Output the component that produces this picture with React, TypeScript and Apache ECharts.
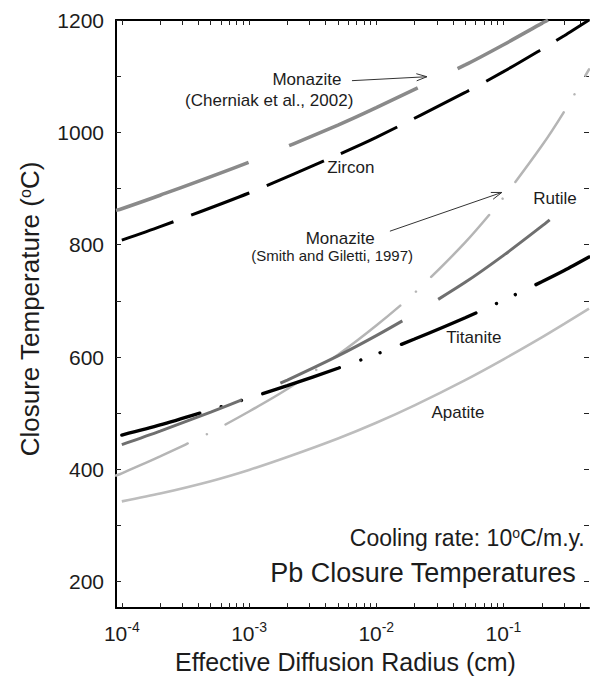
import React, { useEffect, useRef } from "react";
import * as echarts from "echarts";

const FONT = '"Liberation Sans", Arial, Helvetica, sans-serif';
const INK = "#1c1c1c";

// Axis extents: effective diffusion radius (cm, log scale) and closure temperature (°C)
const radiusMin = 9e-5;
const radiusMax = 0.47;
const tempMin = 153;
const tempMax = 1200;

// Tick positions
const radiusDecades = [1e-4, 1e-3, 1e-2, 1e-1];
const radiusLabelExponents = [-4, -3, -2, -1];
const tempTicks = [200, 300, 400, 500, 600, 700, 800, 900, 1000, 1100, 1200];
const tempLabels = [200, 400, 600, 800, 1000, 1200];

// Closure temperature curves (radius in cm, temperature in °C)
const monaziteCherniakRadius = [9e-5, 1e-4, 2e-4, 1e-3, 5e-3, 1e-2, 5e-2, 0.1, 0.2, 0.224];
const monaziteCherniakTemp = [861, 864, 888, 947, 1013, 1044, 1120, 1156, 1194, 1200];

const zirconRadius = [1e-4, 2e-4, 1e-3, 5e-3, 1e-2, 5e-2, 0.1, 0.2, 0.3, 0.47];
const zirconTemp = [808, 832, 892, 960, 991, 1071, 1108, 1148, 1172, 1200];

const monaziteSmithRadius = [9e-5, 1e-4, 2e-4, 5e-4, 1e-3, 2e-3, 5e-3, 1e-2, 2e-2, 5e-2, 0.1, 0.2, 0.3, 0.47];
const monaziteSmithTemp = [389, 393, 423, 466, 503, 543, 604, 656, 714, 804, 884, 976, 1037, 1112];

const rutileRadius = [1e-4, 2e-4, 5e-4, 1e-3, 2e-3, 5e-3, 1e-2, 2e-2, 5e-2, 0.1, 0.2, 0.254];
const rutileTemp = [444, 468, 502, 529, 559, 602, 638, 677, 733, 781, 833, 852];

const titaniteRadius = [1e-4, 2e-4, 5e-4, 1e-3, 2e-3, 5e-3, 1e-2, 2e-2, 5e-2, 0.1, 0.2, 0.3, 0.47];
const titaniteTemp = [461, 479, 506, 527, 549, 580, 605, 632, 670, 701, 734, 754, 778];

const apatiteRadius = [1e-4, 2e-4, 5e-4, 1e-3, 2e-3, 5e-3, 1e-2, 2e-2, 5e-2, 0.1, 0.2, 0.3, 0.47];
const apatiteTemp = [343, 357, 379, 399, 422, 455, 483, 514, 559, 596, 635, 659, 686];

// Curve labels, anchored in data space
const labelText = [
  "Monazite",
  "(Cherniak et al., 2002)",
  "Zircon",
  "Monazite",
  "(Smith and Giletti, 1997)",
  "Rutile",
  "Titanite",
  "Apatite",
  "Cooling rate: 10{o|o}C/m.y.",
  "Pb Closure Temperatures",
];
const labelRadius = [2.85e-3, 1.44e-3, 6.3e-3, 5.2e-3, 4.5e-3, 0.254, 0.0585, 0.0438, 0.435, 0.37];
const labelTemp = [1094, 1057, 938, 811, 781, 882, 635, 502, 278, 216];
const labelSize = [17, 17, 17, 17, 15, 17, 17, 17, 23, 27];
const labelAlign = ["center", "center", "center", "center", "center", "center", "center", "center", "right", "right"];

// Pointer arrows from the monazite labels to their curves
const arrowFrom = [
  [6.44e-3, 1092],
  [0.0128, 824],
];
const arrowTo = [
  [0.025, 1099],
  [0.097, 893],
];

const lg = (v: number) => Math.log10(v);
const toPoints = (radius: number[], temp: number[]) => radius.map((r, i) => [lg(r), temp[i]]);

const minorTicks: number[] = [];
radiusDecades.forEach((d) => {
  for (let m = 1; m <= 9; m++) {
    const v = d * m;
    if (v <= radiusMax) minorTicks.push(lg(v));
  }
});

function curve(name: string, radius: number[], temp: number[], lineStyle: any, z: number) {
  return {
    name,
    type: "line",
    data: toPoints(radius, temp),
    showSymbol: false,
    symbol: "none",
    smooth: 0.25,
    clip: true,
    silent: true,
    z,
    lineStyle,
  };
}

export default function App() {
  const ref = useRef<HTMLDivElement>(null);

  useEffect(() => {
    if (!ref.current) return;
    const chart = echarts.init(ref.current, undefined, { renderer: "svg" });

    const axisLine = { show: true, lineStyle: { color: "#000", width: 2 } };
    const tick = { show: true, inside: true, length: 5, lineStyle: { color: "#222", width: 1 } };

    const xBase = {
      type: "value",
      min: lg(radiusMin),
      max: lg(radiusMax),
      splitLine: { show: false },
      axisLine,
    };
    const yBase = {
      type: "value",
      min: tempMin,
      max: tempMax,
      splitLine: { show: false },
    };

    chart.setOption({
      animation: false,
      backgroundColor: "#fff",
      grid: { left: 116, right: 1, top: 20, bottom: 66, containLabel: false },
      xAxis: [
        {
          ...xBase,
          position: "bottom",
          axisTick: { ...tick, customValues: minorTicks },
          axisLabel: {
            customValues: radiusLabelExponents,
            margin: 12,
            formatter: (v: number) => `{b|10}{s|${Math.round(v)}}`,
            rich: {
              b: { fontFamily: FONT, fontSize: 21, color: INK, verticalAlign: "bottom", lineHeight: 24 },
              s: { fontFamily: FONT, fontSize: 14, color: INK, verticalAlign: "top", lineHeight: 14 },
            },
          },
          name: "Effective Diffusion Radius (cm)",
          nameLocation: "middle",
          nameGap: 38,
          nameTextStyle: { fontFamily: FONT, fontSize: 25, color: INK, padding: [0, 14, 0, 0] },
        },
        {
          ...xBase,
          position: "top",
          axisTick: { ...tick, customValues: minorTicks },
          axisLabel: { show: false },
        },
      ],
      yAxis: [
        {
          ...yBase,
          position: "left",
          axisLine,
          axisTick: { ...tick, customValues: tempTicks },
          axisLabel: {
            customValues: tempLabels,
            margin: 12,
            fontFamily: FONT,
            fontSize: 21,
            color: INK,
            formatter: (v: number) => String(Math.round(v)),
          },
          name: "Closure Temperature ({o|o}C)",
          nameLocation: "middle",
          nameGap: 73,
          nameTextStyle: {
            fontFamily: FONT,
            fontSize: 26,
            color: INK,
            padding: [0, 0, 0, 10],
            rich: { o: { fontFamily: FONT, fontSize: 16, color: INK, verticalAlign: "top", lineHeight: 16 } },
          },
        },
        {
          ...yBase,
          position: "right",
          axisLine: { show: false },
          axisTick: { ...tick, customValues: tempTicks },
          axisLabel: { show: false },
        },
      ],
      series: [
        curve("Apatite", apatiteRadius, apatiteTemp, { color: "#bdbdbd", width: 2.6 }, 2),
        curve("Monazite (Smith and Giletti, 1997)", monaziteSmithRadius, monaziteSmithTemp, {
          color: "#b5b5b5",
          width: 2.5,
          cap: "round",
          type: [84.5, 21.25, 0.01, 21.25],
          dashOffset: 5.75,
        }, 3),
        curve("Titanite", titaniteRadius, titaniteTemp, {
          color: "#000",
          width: 3.4,
          cap: "round",
          type: [81, 22.5, 0.01, 21, 0.01, 22.5],
          dashOffset: 0,
        }, 4),
        curve("Rutile", rutileRadius, rutileTemp, {
          color: "#6f6f6f",
          width: 3,
          type: [137, 42],
          dashOffset: 9,
        }, 5),
        curve("Zircon", zirconRadius, zirconTemp, {
          color: "#000",
          width: 3,
          type: [62, 19],
          dashOffset: 7,
        }, 6),
        curve("Monazite (Cherniak et al., 2002)", monaziteCherniakRadius, monaziteCherniakTemp, {
          color: "#8a8a8a",
          width: 3.5,
          type: [141, 44],
          dashOffset: 0,
        }, 7),
        {
          type: "custom",
          name: "arrows",
          silent: true,
          clip: false,
          z: 9,
          data: arrowFrom.map((a, i) => [lg(a[0]), a[1], lg(arrowTo[i][0]), arrowTo[i][1]]),
          encode: { x: [0, 2], y: [1, 3] },
          renderItem: (params: any, api: any) => {
            const p0 = api.coord([api.value(0), api.value(1)]);
            const p1 = api.coord([api.value(2), api.value(3)]);
            const ang = Math.atan2(p1[1] - p0[1], p1[0] - p0[0]);
            const len = 11;
            const spread = 0.33;
            const b1 = [p1[0] - len * Math.cos(ang - spread), p1[1] - len * Math.sin(ang - spread)];
            const b2 = [p1[0] - len * Math.cos(ang + spread), p1[1] - len * Math.sin(ang + spread)];
            const stroke = { stroke: "#333", lineWidth: 1, fill: "none" };
            return {
              type: "group",
              children: [
                { type: "line", shape: { x1: p0[0], y1: p0[1], x2: p1[0], y2: p1[1] }, style: stroke },
                { type: "polyline", shape: { points: [b1, p1, b2] }, style: stroke },
              ],
            };
          },
        },
        {
          type: "custom",
          name: "labels",
          silent: true,
          clip: false,
          z: 10,
          data: labelRadius.map((r, i) => [lg(r), labelTemp[i]]),
          renderItem: (params: any, api: any) => {
            const i = params.dataIndex;
            const p = api.coord([api.value(0), api.value(1)]);
            return {
              type: "text",
              x: p[0],
              y: p[1],
              style: {
                text: labelText[i],
                fontFamily: FONT,
                fontSize: labelSize[i],
                fill: INK,
                align: labelAlign[i],
                verticalAlign: "middle",
                rich: {
                  o: { fontFamily: FONT, fontSize: 14, fill: INK, verticalAlign: "top", lineHeight: 14 },
                },
              },
            };
          },
        },
      ],
    });

    return () => chart.dispose();
  }, []);

  return (
    <div
      ref={ref}
      style={{ position: "absolute", left: 0, top: 0, width: 590, height: 679, background: "#fff" }}
    />
  );
}
